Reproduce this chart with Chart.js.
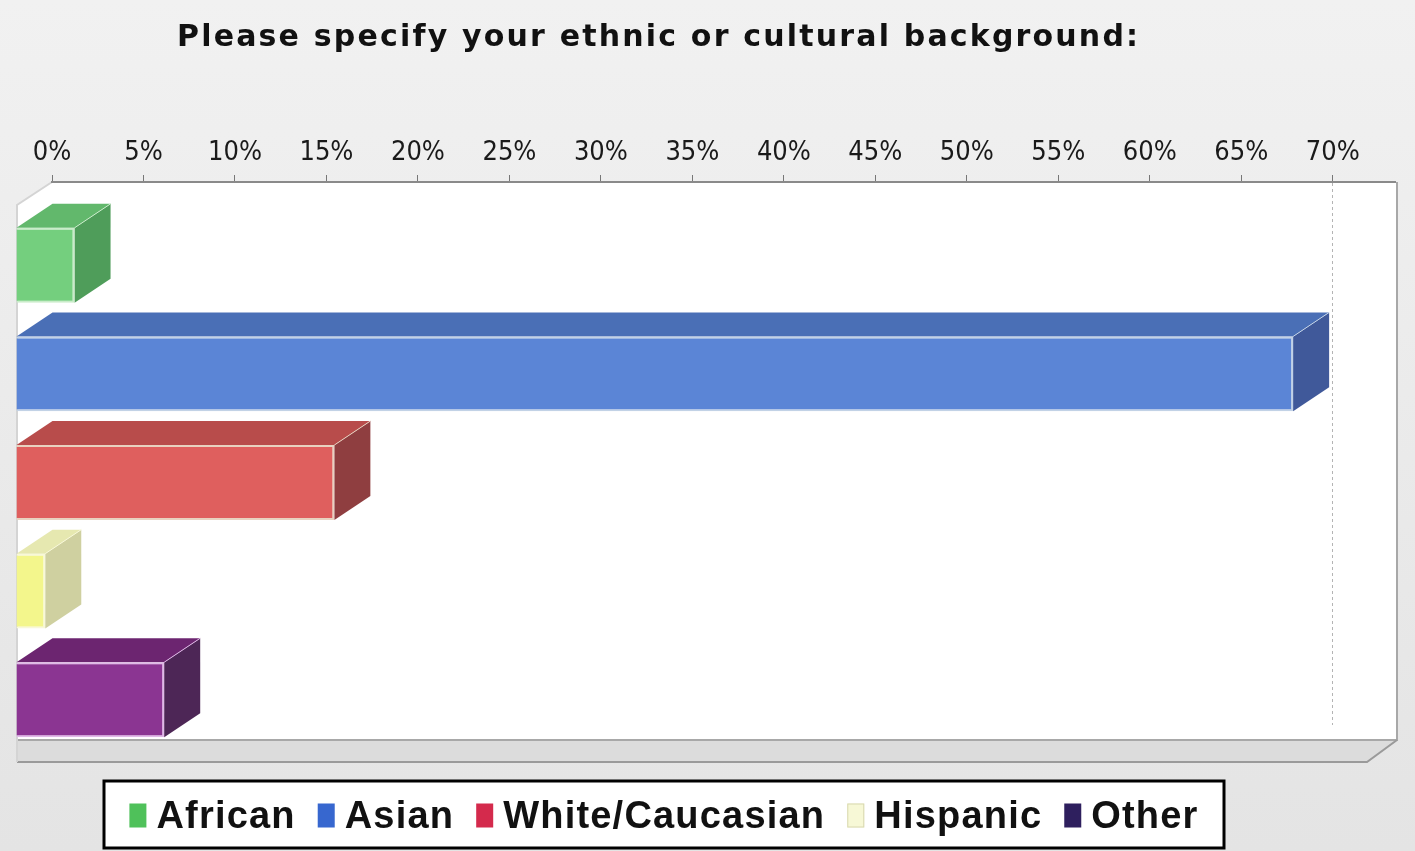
<!DOCTYPE html>
<html>
<head>
<meta charset="utf-8">
<title>Please specify your ethnic or cultural background</title>
<script src="https://cdn.jsdelivr.net/npm/chart.js@4.4.1/dist/chart.umd.min.js"></script>
<style>
    html, body { margin: 0; padding: 0; background: #ececec; }
    canvas { display: block; }
</style>
</head>
<body>
<canvas id="chart" width="1415" height="851"></canvas>
<script>
const chartTitle = 'Please specify your ethnic or cultural background:';
const categories = ['African', 'Asian', 'White/Caucasian', 'Hispanic', 'Other'];
const percentages = [3.2, 69.8, 17.4, 1.6, 8.1];
const tickValues = [0, 5, 10, 15, 20, 25, 30, 35, 40, 45, 50, 55, 60, 65, 70];

const frontColors = ['#74cf7e', '#5b85d6', '#df5f5e', '#f3f68c', '#8b3592'];
const topColors = ['#62b86c', '#4a6fb6', '#b84c4b', '#e6e8b0', '#6c2570'];
const sideColors = ['#4f9d5a', '#40599a', '#8f3e40', '#cfd0a0', '#4d2656'];
const edgeColors = ['#c9ecc9', '#c2d2e6', '#e8d2c0', '#f8f8d8', '#e0b8e8'];
const swatchColors = ['#4fc15a', '#3767cf', '#d42a4c', '#f7f8d6', '#2e1f5e'];

// 3D look: front faces are pushed down-left, depth goes up-right to the axis
const SHIFT_X = -36, SHIFT_Y = 29;
const DEPTH_X = 36, DEPTH_Y = 24;

const bar3d = {
    id: 'bar3d',
    beforeDatasetDraw(chart, args) {
        const ctx = chart.ctx;
        ctx.save();
        ctx.translate(SHIFT_X, SHIFT_Y);
        const i = args.index;
        const values = chart.data.datasets[i].data;
        args.meta.data.forEach((bar, j) => {
            if (values[j] == null) return;
            const { x, y, base, height } = bar.getProps(['x', 'y', 'base', 'height'], true);
            const y0 = y - height / 2;
            ctx.fillStyle = topColors[i];
            ctx.beginPath();
            ctx.moveTo(base, y0);
            ctx.lineTo(x, y0);
            ctx.lineTo(x + DEPTH_X, y0 - DEPTH_Y);
            ctx.lineTo(base + DEPTH_X, y0 - DEPTH_Y);
            ctx.closePath();
            ctx.fill();
            ctx.fillStyle = sideColors[i];
            ctx.beginPath();
            ctx.moveTo(x, y0);
            ctx.lineTo(x + DEPTH_X, y0 - DEPTH_Y);
            ctx.lineTo(x + DEPTH_X, y0 - DEPTH_Y + height);
            ctx.lineTo(x, y0 + height);
            ctx.closePath();
            ctx.fill();
            ctx.strokeStyle = edgeColors[i];
            ctx.lineWidth = 1;
            ctx.beginPath();
            ctx.moveTo(x, y0);
            ctx.lineTo(x + DEPTH_X, y0 - DEPTH_Y);
            ctx.stroke();
        });
    },
    afterDatasetDraw(chart) {
        chart.ctx.restore();
    },
};

const frame = {
    id: 'frame',
    beforeDraw(chart) {
        const { ctx, width, height, chartArea: ca } = chart;
        ctx.save();
        const bg = ctx.createLinearGradient(0, 0, 0, height);
        bg.addColorStop(0, '#f1f1f1');
        bg.addColorStop(1, '#e4e4e4');
        ctx.fillStyle = bg;
        ctx.fillRect(0, 0, width, height);

        const leftFront = ca.left + SHIFT_X + 1;
        const wallRight = ca.right + 2;
        const floorTop = ca.bottom + 15;
        const floorBottom = floorTop + 22;
        ctx.fillStyle = '#ffffff';
        ctx.beginPath();
        ctx.moveTo(leftFront, ca.top + 23);
        ctx.lineTo(ca.left, ca.top);
        ctx.lineTo(wallRight, ca.top);
        ctx.lineTo(wallRight, floorTop);
        ctx.lineTo(leftFront, floorTop);
        ctx.closePath();
        ctx.fill();

        ctx.fillStyle = '#dcdcdc';
        ctx.beginPath();
        ctx.moveTo(leftFront, floorTop);
        ctx.lineTo(wallRight, floorTop);
        ctx.lineTo(wallRight - 30, floorBottom);
        ctx.lineTo(leftFront, floorBottom);
        ctx.closePath();
        ctx.fill();

        ctx.strokeStyle = '#a8a8a8';
        ctx.lineWidth = 2;
        ctx.beginPath();
        ctx.moveTo(wallRight, ca.top);
        ctx.lineTo(wallRight, floorTop);
        ctx.lineTo(leftFront, floorTop);
        ctx.stroke();
        ctx.strokeStyle = '#9a9a9a';
        ctx.beginPath();
        ctx.moveTo(leftFront, floorBottom);
        ctx.lineTo(wallRight - 30, floorBottom);
        ctx.lineTo(wallRight, floorTop);
        ctx.stroke();
        ctx.strokeStyle = '#d4d4d4';
        ctx.beginPath();
        ctx.moveTo(ca.left, ca.top);
        ctx.lineTo(leftFront, ca.top + 23);
        ctx.lineTo(leftFront, floorBottom);
        ctx.stroke();
        ctx.restore();
    },
    afterDraw(chart) {
        const ctx = chart.ctx;
        ctx.save();
        // title
        ctx.font = 'bold 30px "DejaVu Sans", Verdana, sans-serif';
        ctx.fillStyle = '#111';
        ctx.textBaseline = 'alphabetic';
        ctx.textAlign = 'left';
        ctx.letterSpacing = '0px';
        const natural = ctx.measureText(chartTitle).width;
        ctx.letterSpacing = Math.max(0, (963 - natural) / chartTitle.length).toFixed(2) + 'px';
        ctx.fillText(chartTitle, 177, 46);

        // legend box
        const box = { x: 104, y: 781, w: 1120, h: 67 };
        ctx.letterSpacing = '0px';
        ctx.fillStyle = '#ffffff';
        ctx.fillRect(box.x, box.y, box.w, box.h);
        ctx.strokeStyle = '#000';
        ctx.lineWidth = 3;
        ctx.strokeRect(box.x, box.y, box.w, box.h);

        ctx.font = 'bold 38px "Liberation Sans", Arial, sans-serif';
        ctx.textBaseline = 'middle';
        ctx.letterSpacing = '1.2px';
        const swW = 17, swH = 24, gapText = 10, gapItem = 22;
        const widths = chart.data.datasets.map(d => ctx.measureText(d.label).width);
        const total = widths.reduce((a, w) => a + w + swW + gapText, 0) + gapItem * (widths.length - 1);
        let x = box.x + (box.w - total) / 2;
        const cy = box.y + box.h / 2 + 1;
        chart.data.datasets.forEach((d, i) => {
            ctx.fillStyle = swatchColors[i];
            ctx.fillRect(x, cy - swH / 2, swW, swH);
            if (i === 3) {
                ctx.strokeStyle = '#d8d8b0';
                ctx.lineWidth = 1;
                ctx.strokeRect(x + 0.5, cy - swH / 2 + 0.5, swW - 1, swH - 1);
            }
            x += swW + gapText;
            ctx.fillStyle = '#111';
            ctx.fillText(d.label, x, cy + 2);
            x += widths[i] + gapItem;
        });
        ctx.restore();
    },
};

const datasets = categories.map((name, i) => ({
    label: name,
    data: categories.map((_, j) => (j === i ? percentages[i] : null)),
    backgroundColor: frontColors[i],
    borderColor: edgeColors[i],
    borderWidth: 2,
    categoryPercentage: 0.69,
    barPercentage: 1,
    clip: false,
}));

new Chart(document.getElementById('chart'), {
    type: 'bar',
    data: { labels: categories, datasets },
    options: {
        indexAxis: 'y',
        responsive: false,
        animation: false,
        skipNull: true,
        layout: { padding: { left: 52, right: 20, top: 0, bottom: 126 } },
        plugins: {
            legend: { display: false },
            title: { display: false },
            tooltip: { enabled: false },
        },
        scales: {
            x: {
                position: 'top',
                min: 0,
                max: 73.4,
                afterBuildTicks: (axis) => {
                    axis.ticks = tickValues.map(v => ({ value: v }));
                },
                afterFit: (axis) => {
                    axis.height = 182;
                },
                ticks: {
                    callback: (v) => v + '%',
                    color: '#1a1a1a',
                    padding: 6,
                    maxRotation: 0,
                    autoSkip: false,
                    font: { family: '"DejaVu Sans Condensed", "DejaVu Sans", sans-serif', size: 27 },
                },
                grid: {
                    color: (c) => (c.tick && c.tick.value === 70 ? '#b4b4b4' : 'rgba(0,0,0,0)'),
                    tickColor: '#777',
                    tickLength: 7,
                    lineWidth: 1,
                },
                border: { display: true, color: '#8a8a8a', width: 2, dash: [3, 3] },
            },
            y: {
                display: false,
                grid: { display: false },
            },
        },
    },
    plugins: [frame, bar3d],
});
</script>
</body>
</html>
